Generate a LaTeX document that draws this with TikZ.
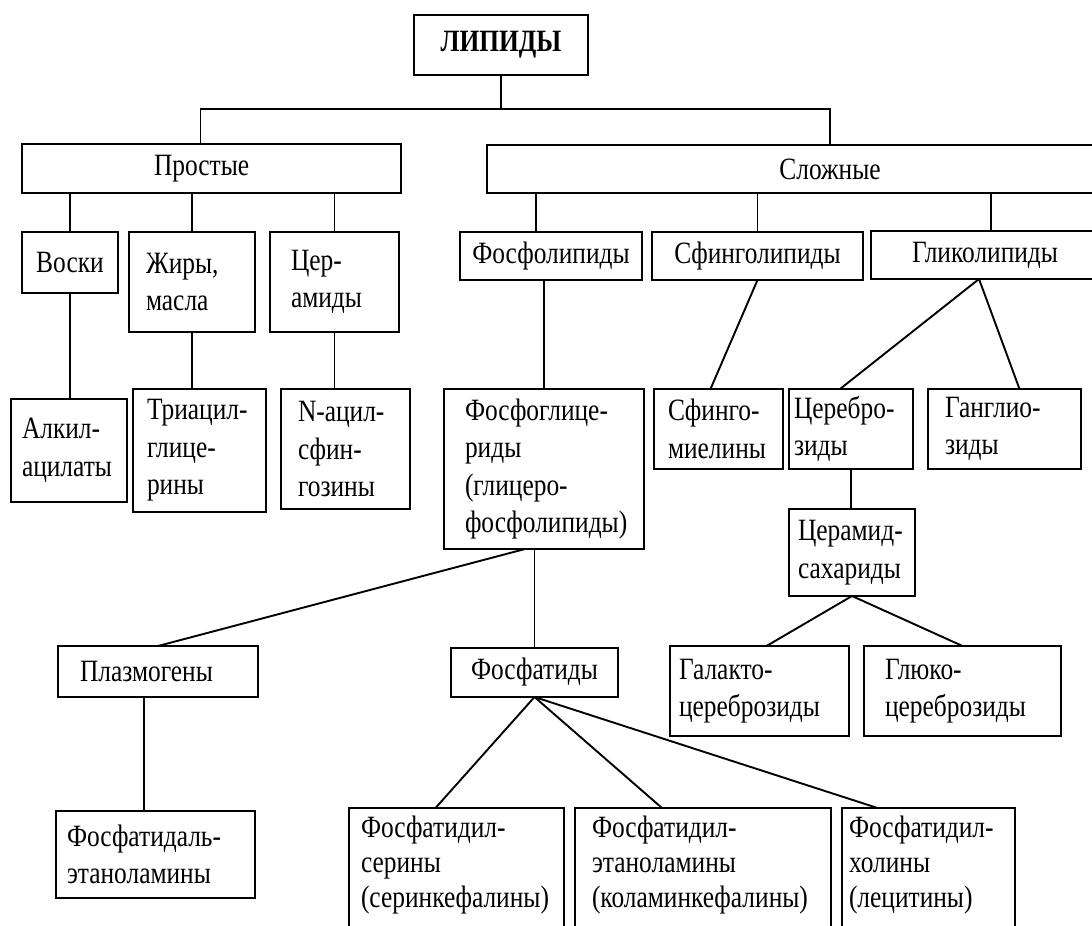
\documentclass[tikz,border=0pt]{standalone}
\usepackage{fontspec}
\setmainfont{Liberation Serif}[FakeStretch=0.82]
\newcommand{\boxfont}{\fontsize{31}{37.5}\selectfont\exhyphenpenalty=10000 \hyphenpenalty=10000 }
\tikzstyle{cbox} = [draw, line width=1.9pt, anchor=north west, outer sep=0pt, inner sep=0pt, align=center, font=\boxfont]
\tikzstyle{lbox} = [draw, line width=1.9pt, anchor=north west, outer sep=0pt, inner ysep=0pt, align=left, font=\boxfont]
\tikzstyle{cutbox} = [draw, line width=1.9pt, anchor=north west, outer sep=0pt, inner ysep=8pt, font=\boxfont]
\tikzstyle{link} = [line width=1.9pt]
\newcommand{\cuttext}[2]{\parbox[t][112pt][t]{#1}{\baselineskip=35pt #2}}

\begin{document}
\begin{tikzpicture}[x=1pt, y=-1pt]
    \useasboundingbox (0,0) rectangle (1092,926);
    \clip (0,0) rectangle (1092,926);

	\node(lipids) at (414,15) [cbox, minimum width=174pt, minimum height=60pt, font=\boxfont\bfseries] {ЛИПИДЫ};

	\node(simple) at (22,144) [lbox, minimum height=49pt, text width=115pt, inner xsep=132pt] {Простые};
	\node(complex) at (487,145) [cbox, minimum width=686pt, minimum height=48pt] {Сложные};

	\node(waxes) at (22,232) [cbox, minimum width=96pt, minimum height=61pt] {Воски};
	\node(fats) at (129,232) [lbox, minimum height=100pt, text width=92pt, inner xsep=17pt] {Жиры,\\масла};
	\node(ceramides) at (270,232) [lbox, minimum height=100pt, text width=87pt, inner xsep=21pt] {Цер-\\амиды};
	\node(phospholipids) at (460,232) [cbox, minimum width=182pt, minimum height=48pt] {Фосфолипиды};
	\node(sphingolipids) at (652,232) [cbox, minimum width=211pt, minimum height=48pt] {Сфинголипиды};
	\node(glycolipids) at (871,231) [cbox, minimum width=228pt, minimum height=48pt] {Гликолипиды};

	\node(alkyl) at (11,399) [lbox, minimum height=103pt, text width=94pt, inner xsep=11pt] {Алкил-\\ацилаты};
	\node(triacyl) at (133,389) [lbox, minimum height=123pt, text width=105pt, inner xsep=14pt] {Триацил-\\глице-\\рины};
	\node(acylsph) at (281,389) [lbox, minimum height=120pt, text width=95pt, inner xsep=17pt] {N-ацил-\\сфин-\\гозины};
	\node(phosphoglyc) at (444,389) [lbox, minimum height=160pt, text width=158pt, inner xsep=21pt] {Фосфоглице-\\риды\\(глицеро-\\фосфолипиды)};
	\node(sphingomyel) at (654,389) [lbox, minimum height=80pt, text width=101pt, inner xsep=14pt] {Сфинго-\\миелины};
	\node(cerebro) at (789,389) [lbox, minimum height=80pt, text width=114pt, inner xsep=5pt] {Церебро-\\зиды};
	\node(ganglio) at (928,389) [lbox, minimum height=80pt, text width=119pt, inner xsep=17pt] {Ганглио-\\зиды};
	\node(ceramsacch) at (789,509) [lbox, minimum height=87pt, text width=108pt, inner xsep=9pt] {Церамид-\\сахариды};

	\node(plasmalogens) at (58,646) [lbox, minimum height=51pt, text width=156pt, inner xsep=22pt] {Плазмогены};
	\node(phosphatides) at (451,648) [cbox, minimum width=167pt, minimum height=49pt] {Фосфатиды};
	\node(galacto) at (670,646) [lbox, minimum height=90pt, text width=161pt, inner xsep=9pt] {Галакто-\\цереброзиды};
	\node(gluco) at (864,646) [lbox, minimum height=90pt, text width=155pt, inner xsep=21pt] {Глюко-\\цереброзиды};
	\node(phosphatidal) at (56,811) [lbox, minimum height=87pt, text width=177pt, inner xsep=11pt] {Фосфатидаль-\\этаноламины};

	% bottom row runs off the page
	\node(serine) at (349,808) [cutbox, inner xsep=12pt] {\cuttext{191pt}{Фосфатидил-\\серины\\(серинкефалины)}};
	\node(ethanol) at (575,808) [cutbox, inner xsep=17pt] {\cuttext{222pt}{Фосфатидил-\\этаноламины\\(коламинкефалины)}};
	\node(choline) at (842,808) [cutbox, inner xsep=7pt] {\cuttext{159pt}{Фосфатидил-\\холины\\(лецитины)}};

	\coordinate (bus) at (501,109);
	\draw[link] (lipids.south) -- (bus);
	\draw[link] ([xshift=-11pt]simple.north) |- (bus) -| (complex.north);
	\foreach \child in {waxes,fats,ceramides}
		\draw[link] (simple.south -| \child.north) -- (\child.north);
	\coordinate (phl) at ([xshift=-15pt]phospholipids.north);
	\draw[link] (complex.south -| phl) -- (phl);
	\coordinate (gll) at ([xshift=6pt]glycolipids.north);
	\draw[link] (complex.south -| gll) -- (gll);
	\draw[link] (complex.south -| sphingolipids.north) -- (sphingolipids.north);

	\draw[link] (waxes.south) -- (waxes.south |- alkyl.north);
	\draw[link] (fats.south) -- (fats.south |- triacyl.north);
	\draw[link] (ceramides.south) -- (ceramides.south |- acylsph.north);
	\draw[link] (phosphoglyc.north |- phospholipids.south) -- (phosphoglyc.north);

	\draw[link] (sphingolipids.south) -- ([xshift=-8pt]sphingomyel.north);
	\draw[link] ([xshift=-6pt]glycolipids.south) -- ([xshift=-11pt]cerebro.north);
	\draw[link] ([xshift=-6pt]glycolipids.south) -- ([xshift=15pt]ganglio.north);
	\draw[link] (cerebro.south) -- (cerebro.south |- ceramsacch.north);
	\draw[link] (ceramsacch.south) -- ([xshift=7pt]galacto.north);
	\draw[link] (ceramsacch.south) -- (gluco.north);

	\draw[link] ([xshift=-19pt]phosphoglyc.south) -- (plasmalogens.north);
	\draw[link] (phosphatides.north |- phosphoglyc.south) -- (phosphatides.north);
	\coordinate (pls) at ([xshift=-14pt]plasmalogens.south);
	\draw[link] (pls) -- (pls |- phosphatidal.north);
	\draw[link] (phosphatides.south) -- ([xshift=-21pt]serine.north);
	\draw[link] (phosphatides.south) -- ([xshift=-41pt]ethanol.north);
	\draw[link] (phosphatides.south) -- ([xshift=-51pt]choline.north);

\end{tikzpicture}
\end{document}
